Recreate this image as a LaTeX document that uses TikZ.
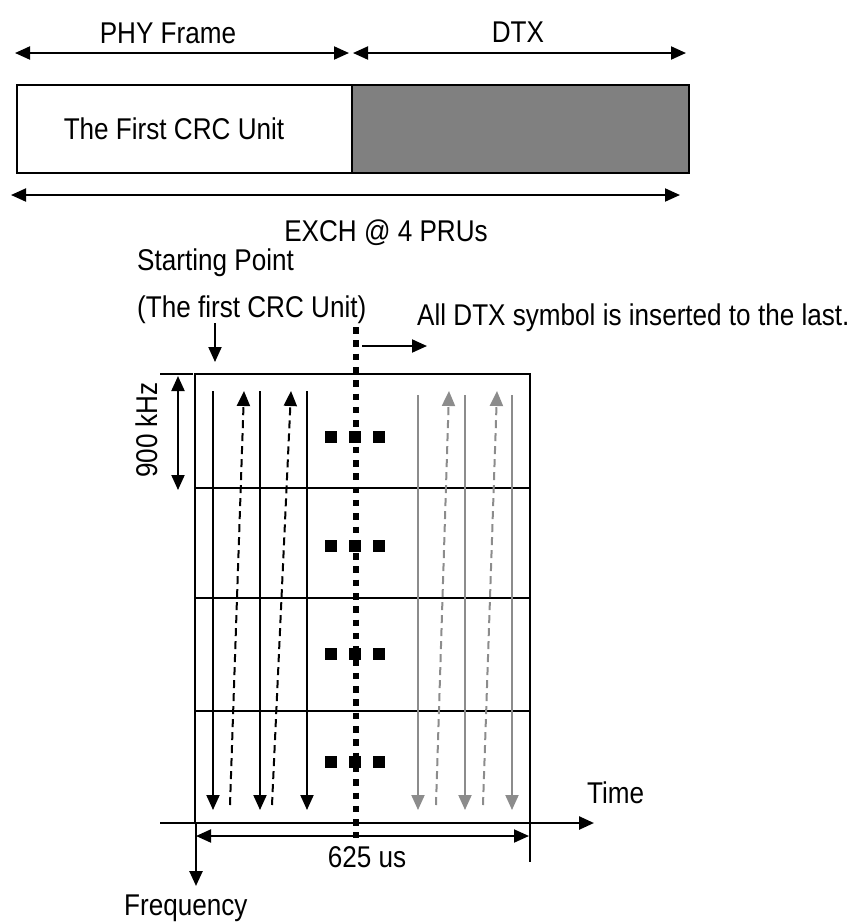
\documentclass[tikz,border=0pt]{standalone}
\usepackage{fontspec}
\setmainfont{Liberation Sans}[FakeStretch=0.87]
\usetikzlibrary{arrows.meta}
\definecolor{dtxgray}{RGB}{128,128,128}
\definecolor{lgray}{RGB}{140,140,140}
\tikzset{
  lbl/.style={inner sep=0pt, font=\fontsize{30}{36}\selectfont},
  tipend/.style={-{Triangle[length=15pt,width=13pt]}},
  dtip/.style={{Triangle[length=15pt,width=13pt]}-{Triangle[length=15pt,width=13pt]}},
  ln/.style={line width=2pt},
  dsh/.style={line width=2pt, dash pattern=on 8pt off 5pt},
  box/.style={draw, line width=2pt, inner sep=0pt, anchor=north west},
  sq/.style={fill=black, inner sep=0pt, minimum size=12pt},
}
\begin{document}
\begin{tikzpicture}[x=1pt,y=-1pt]
\useasboundingbox (0,0) rectangle (852,922);

% ---- top part
\coordinate (phyL) at (15,53); \coordinate (phyR) at (349,53);
\coordinate (dtxL) at (353,53); \coordinate (dtxR) at (686,53);
\draw[ln,dtip] (phyL) -- (phyR);
\draw[ln,dtip] (dtxL) -- (dtxR);
\node[lbl,anchor=base] (phy) at (168,43) {PHY Frame};
\node[lbl,anchor=base] (dtx) at (518,42) {DTX};

\node[box, fill=white, minimum width=335pt, minimum height=88pt] (crc) at (16,84) {};
\node[box, fill=dtxgray, minimum width=337pt, minimum height=88pt] (dtxbox) at (351,84) {};
\node[lbl,anchor=base] (crctxt) at (174,139) {The First CRC Unit};

\coordinate (exL) at (11,195); \coordinate (exR) at (680,195);
\draw[ln,dtip] (exL) -- (exR);
\node[lbl,anchor=base] (exch) at (386,241) {EXCH @ 4 PRUs};

% ---- labels above grid
\node[lbl,anchor=base west] (sp) at (137,270) {Starting Point};
\node[lbl,anchor=base west] (spc) at (137,317) {(The first CRC Unit)};
\node[lbl,anchor=base west] (alldtx) at (417,325) {All DTX symbol is inserted to the last.};

\coordinate (spA) at (215,323); \coordinate (spB) at (215,362);
\draw[ln,tipend] (spA) -- (spB);

\coordinate (dotT) at (356,327); \coordinate (dotB) at (356,838);
\coordinate (raA) at (362,346); \coordinate (raB) at (427,346);
\draw[ln,tipend] (raA) -- (raB);

% ---- grid
\coordinate (gTL) at (195,374); \coordinate (gBR) at (530,823);
\draw[line width=2.5pt] (gTL) rectangle (gBR);
\foreach \yy/\nm in {488/a,598/b,711/c}{
  \coordinate (hl\nm) at (195,\yy); \coordinate (hr\nm) at (530,\yy);
  \draw[line width=2.5pt] (hl\nm) -- (hr\nm);
}
\coordinate (tickA) at (160,374); \coordinate (tickB) at (193,374);
\draw[line width=2.5pt] (tickA) -- (tickB);

% 900 kHz
\coordinate (kA) at (178,376); \coordinate (kB) at (178,490);
\draw[ln,dtip] (kA) -- (kB);
\node[lbl,anchor=base,rotate=90] (khz) at (157,430) {900 kHz};

% black solid arrows
\foreach \xx/\nm in {213/a,260/b,307/c}{
  \coordinate (bs\nm T) at (\xx,391); \coordinate (bs\nm B) at (\xx,810);
  \draw[ln,tipend] (bs\nm T) -- (bs\nm B);
}
% black dashed arrows
\coordinate (bdaB) at (230,805); \coordinate (bdaT) at (244,391);
\coordinate (bdbB) at (272,805); \coordinate (bdbT) at (291,391);
\draw[dsh,tipend] (bdaB) -- (bdaT);
\draw[dsh,tipend] (bdbB) -- (bdbT);

% gray solid arrows
\foreach \xx/\nm in {418/a,465/b,512/c}{
  \coordinate (gs\nm T) at (\xx,395); \coordinate (gs\nm B) at (\xx,810);
  \draw[ln,lgray,tipend] (gs\nm T) -- (gs\nm B);
}
% gray dashed arrows
\coordinate (gdaB) at (436,805); \coordinate (gdaT) at (449,391);
\coordinate (gdbB) at (483,805); \coordinate (gdbT) at (497,391);
\draw[dsh,lgray,tipend] (gdaB) -- (gdaT);
\draw[dsh,lgray,tipend] (gdbB) -- (gdbT);

% dotted separator
\draw[line width=6pt, dash pattern=on 6.5pt off 6.8pt] (dotT) -- (dotB);

% squares
\foreach \yy/\r in {437/1,546/2,654/3,762/4}{
  \node[sq] (sqa\r) at (331,\yy) {};
  \node[sq] (sqb\r) at (355,\yy) {};
  \node[sq] (sqc\r) at (379,\yy) {};
}

% axes
\coordinate (tA) at (160,823); \coordinate (tB) at (594,823);
\draw[line width=2.5pt,tipend] (tA) -- (tB);
\coordinate (fA) at (196,823); \coordinate (fB) at (196,886);
\draw[line width=2.5pt,tipend] (fA) -- (fB);
\coordinate (rA) at (530,823); \coordinate (rB) at (530,862);
\draw[line width=2.5pt] (rA) -- (rB);
\coordinate (uL) at (196,836); \coordinate (uR) at (529,836);
\draw[ln,dtip] (uL) -- (uR);

\node[lbl,anchor=base] (us) at (367,867) {625 us};
\node[lbl,anchor=base west] (time) at (587,803) {Time};
\node[lbl,anchor=base west] (freq) at (124,915) {Frequency};
\end{tikzpicture}
\end{document}
